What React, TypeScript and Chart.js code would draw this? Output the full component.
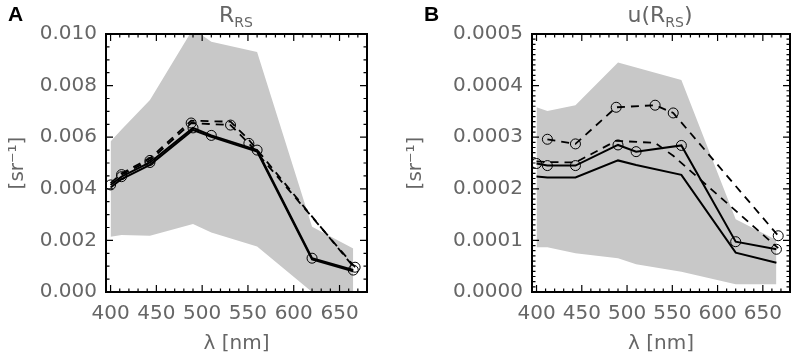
import React, { useEffect, useRef } from 'react';
import { Chart, registerables } from 'chart.js';

Chart.register(...registerables);

// ---------------- data ----------------
const X_MIN = 395;
const X_MAX = 680;
const xTickValues = [400, 450, 500, 550, 600, 650];
const xTickLabels = ['400', '450', '500', '550', '600', '650'];
const X_MINOR_STEP = 10;

// band wavelengths (shared)
const bandWl = [400, 412, 443, 490, 510, 560, 620, 665];
// OLCI-like band set
const olciWl = [400, 412, 443, 490, 510, 560, 620, 665];
// MODIS-like band sets
const modisWl = [412, 443, 488, 531, 551, 667];
const modisWlPlain = [400, 412, 443, 488, 531, 551, 667];

// Panel A: R_RS
const yTicksA = [0, 0.002, 0.004, 0.006, 0.008, 0.01];
const yTickLabelsA = ['0.000', '0.002', '0.004', '0.006', '0.008', '0.010'];
const Y_MINOR_A = 0.0005;
const aBandUpper = [0.00583, 0.0063, 0.00744, 0.0102, 0.0097, 0.0093, 0.00253, 0.00169];
const aBandLower = [0.00214, 0.00221, 0.00218, 0.00264, 0.00231, 0.00176, 0.0, 0.0];
const aSolidCircles = [0.00415, 0.00447, 0.00502, 0.00636, 0.00607, 0.0055, 0.00131, 0.00085];
const aSolidPlain = [0.00405, 0.00438, 0.00493, 0.00628, 0.00602, 0.00544, 0.00126, 0.0008];
const aDashedCircles = [0.00455, 0.0051, 0.00655, 0.00647, 0.00576, 0.00096];
const aDashedPlain = [0.00422, 0.0046, 0.00518, 0.00664, 0.0066, 0.0059, 0.0009];

// Panel B: u(R_RS)
const yTicksB = [0, 0.0001, 0.0002, 0.0003, 0.0004, 0.0005];
const yTickLabelsB = ['0.0000', '0.0001', '0.0002', '0.0003', '0.0004', '0.0005'];
const Y_MINOR_B = 0.00001;
const bBandUpper = [0.000358, 0.000351, 0.000362, 0.000445, 0.000435, 0.000411, 0.000141, 0.000101];
const bBandLower = [0.0000866, 0.0000866, 0.000075, 0.0000653, 0.0000537, 0.0000393, 0.000015, 0.000015];
const bSolidCircles = [0.000249, 0.000245, 0.000245, 0.000285, 0.000272, 0.000284, 0.0000975, 0.0000828];
const bSolidPlain = [0.000224, 0.000222, 0.000222, 0.000255, 0.000246, 0.000227, 0.0000762, 0.0000568];
const bDashedCircles = [0.000296, 0.000287, 0.000358, 0.000362, 0.000347, 0.000109];
const bDashedPlain = [0.000253, 0.000252, 0.000251, 0.000293, 0.000289, 0.000264, 0.000085];

// ---------------- style ----------------
const FONT = "'DejaVu Sans', sans-serif";
const TEXT_GRAY = '#666666';
const BAND_COLOR = '#c8c8c8';

const pts = (xs: number[], ys: number[]) => xs.map((x, i) => ({ x, y: ys[i] }));

const idlAxes = {
  id: 'idlAxes',
  afterDatasetsDraw(chart: any, _args: any, opts: any) {
    const { ctx, chartArea } = chart;
    const { left, right, top, bottom } = chartArea;
    const xs = chart.scales.x;
    const ys = chart.scales.y;
    const major = 7;
    const minor = 3.5;
    ctx.save();
    ctx.strokeStyle = '#000';
    ctx.lineWidth = 1.2;
    ctx.beginPath();
    const xn0 = Math.ceil(X_MIN / X_MINOR_STEP);
    const xn1 = Math.floor(X_MAX / X_MINOR_STEP);
    for (let n = xn0; n <= xn1; n++) {
      const px = xs.getPixelForValue(n * X_MINOR_STEP);
      if (px <= left + 1 || px >= right - 1) continue;
      ctx.moveTo(px, bottom); ctx.lineTo(px, bottom - minor);
      ctx.moveTo(px, top); ctx.lineTo(px, top + minor);
    }
    for (const v of xTickValues) {
      const px = xs.getPixelForValue(v);
      ctx.moveTo(px, bottom); ctx.lineTo(px, bottom - major);
      ctx.moveTo(px, top); ctx.lineTo(px, top + major);
    }
    const step = opts.yMinor;
    const count = Math.round(ys.max / step);
    for (let n = 1; n < count; n++) {
      const py = ys.getPixelForValue(n * step);
      ctx.moveTo(left, py); ctx.lineTo(left + minor, py);
      ctx.moveTo(right, py); ctx.lineTo(right - minor, py);
    }
    for (const v of opts.yMajor) {
      const py = ys.getPixelForValue(v);
      ctx.moveTo(left, py); ctx.lineTo(left + major, py);
      ctx.moveTo(right, py); ctx.lineTo(right - major, py);
    }
    ctx.stroke();
    ctx.lineWidth = 2;
    ctx.strokeRect(left, top, right - left, bottom - top);
    ctx.restore();
  },
};

type PanelProps = {
  left: number;
  width: number;
  yAxisWidth: number;
  rightPad: number;
  yMax: number;
  yTicks: number[];
  yLabels: string[];
  yMinor: number;
  band: [number[], number[]];
  solidCircles: number[];
  solidPlain: number[];
  dashedCircles: number[];
  dashedPlain: number[];
};

function Panel(p: PanelProps) {
  const ref = useRef<HTMLCanvasElement | null>(null);
  useEffect(() => {
    if (!ref.current) return;
    const lineCommon = { showLine: true, borderColor: '#000', tension: 0, fill: false };
    const circle = {
      pointRadius: 5,
      pointBorderWidth: 1,
      pointBorderColor: '#000',
      pointBackgroundColor: 'rgba(0,0,0,0)',
      pointStyle: 'circle',
    };
    const chart = new Chart(ref.current, {
      type: 'scatter',
      data: {
        datasets: [
          { ...lineCommon, ...circle, label: 'dashed circles', data: pts(modisWl, p.dashedCircles), borderWidth: 1.8, borderDash: [8, 6] },
          { ...lineCommon, label: 'dashed', data: pts(modisWlPlain, p.dashedPlain), borderWidth: 1.8, borderDash: [8, 6], pointRadius: 0 },
          { ...lineCommon, ...circle, label: 'solid circles', data: pts(olciWl, p.solidCircles), borderWidth: 2 },
          { ...lineCommon, label: 'solid', data: pts(olciWl, p.solidPlain), borderWidth: 2, pointRadius: 0 },
          { label: 'max', data: pts(bandWl, p.band[0]), showLine: true, borderWidth: 0, borderColor: BAND_COLOR, pointRadius: 0, backgroundColor: BAND_COLOR, fill: '+1', tension: 0 },
          { label: 'min', data: pts(bandWl, p.band[1]), showLine: true, borderWidth: 0, borderColor: BAND_COLOR, pointRadius: 0, fill: false, tension: 0 },
        ] as any,
      },
      options: {
        responsive: false,
        animation: false,
        events: [],
        layout: { padding: { left: 0, top: 34, right: p.rightPad, bottom: 0 } },
        plugins: {
          legend: { display: false },
          tooltip: { enabled: false },
          filler: { drawTime: 'beforeDatasetsDraw' },
          idlAxes: { yMajor: p.yTicks, yMinor: p.yMinor },
        } as any,
        scales: {
          x: {
            type: 'linear',
            min: X_MIN,
            max: X_MAX,
            grid: { display: false, drawTicks: false },
            border: { display: false },
            afterBuildTicks: (s: any) => { s.ticks = xTickValues.map((v) => ({ value: v })); },
            afterFit: (s: any) => { s.height = 64; },
            ticks: {
              autoSkip: false,
              maxRotation: 0,
              padding: 10,
              color: TEXT_GRAY,
              font: { family: FONT, size: 20 },
              callback: (_v: any, i: number) => xTickLabels[i],
            },
            title: {
              display: true,
              text: 'λ [nm]',
              color: TEXT_GRAY,
              font: { family: FONT, size: 20 },
              padding: { top: 0, bottom: 0 },
            },
          },
          y: {
            type: 'linear',
            min: 0,
            max: p.yMax,
            grid: { display: false, drawTicks: false },
            border: { display: false },
            afterBuildTicks: (s: any) => { s.ticks = p.yTicks.map((v) => ({ value: v })); },
            afterFit: (s: any) => { s.width = p.yAxisWidth; },
            ticks: {
              autoSkip: false,
              padding: 9,
              color: TEXT_GRAY,
              font: { family: FONT, size: 20 },
              callback: (_v: any, i: number) => p.yLabels[i],
            },
            title: {
              display: true,
              text: '[sr⁻¹]',
              color: TEXT_GRAY,
              font: { family: FONT, size: 20 },
              padding: { top: 6, bottom: 0 },
            },
          },
        },
      } as any,
      plugins: [idlAxes as any],
    });
    return () => chart.destroy();
  }, []);
  return (
    <canvas
      ref={ref}
      width={p.width}
      height={356}
      style={{ position: 'absolute', left: p.left, top: 0, width: p.width, height: 356 }}
    />
  );
}

const titleStyle: React.CSSProperties = {
  position: 'absolute',
  top: 4,
  width: 200,
  textAlign: 'center',
  fontFamily: FONT,
  fontSize: 22,
  lineHeight: '22px',
  color: TEXT_GRAY,
  whiteSpace: 'nowrap',
};
const subStyle: React.CSSProperties = { fontSize: 14, position: 'relative', top: 5 };
const letterStyle: React.CSSProperties = {
  position: 'absolute',
  top: 3,
  fontFamily: "'Liberation Sans', Arial, sans-serif",
  fontWeight: 'bold',
  fontSize: 21,
  lineHeight: '21px',
  color: '#000',
};

export default function App() {
  return (
    <div style={{ position: 'absolute', left: 0, top: 0, width: 796, height: 356, background: '#fff', overflow: 'hidden' }}>
      <Panel
        left={0}
        width={398}
        yAxisWidth={106}
        rightPad={31}
        yMax={0.01}
        yTicks={yTicksA}
        yLabels={yTickLabelsA}
        yMinor={Y_MINOR_A}
        band={[aBandUpper, aBandLower]}
        solidCircles={aSolidCircles}
        solidPlain={aSolidPlain}
        dashedCircles={aDashedCircles}
        dashedPlain={aDashedPlain}
      />
      <Panel
        left={398}
        width={398}
        yAxisWidth={134}
        rightPad={3}
        yMax={0.0005}
        yTicks={yTicksB}
        yLabels={yTickLabelsB}
        yMinor={Y_MINOR_B}
        band={[bBandUpper, bBandLower]}
        solidCircles={bSolidCircles}
        solidPlain={bSolidPlain}
        dashedCircles={bDashedCircles}
        dashedPlain={bDashedPlain}
      />
      <div style={{ ...letterStyle, left: 8 }}>A</div>
      <div style={{ ...letterStyle, left: 424 }}>B</div>
      <div style={{ ...titleStyle, left: 136 }}>
        R<span style={subStyle}>RS</span>
      </div>
      <div style={{ ...titleStyle, left: 560 }}>
        u(R<span style={subStyle}>RS</span>)
      </div>
    </div>
  );
}
